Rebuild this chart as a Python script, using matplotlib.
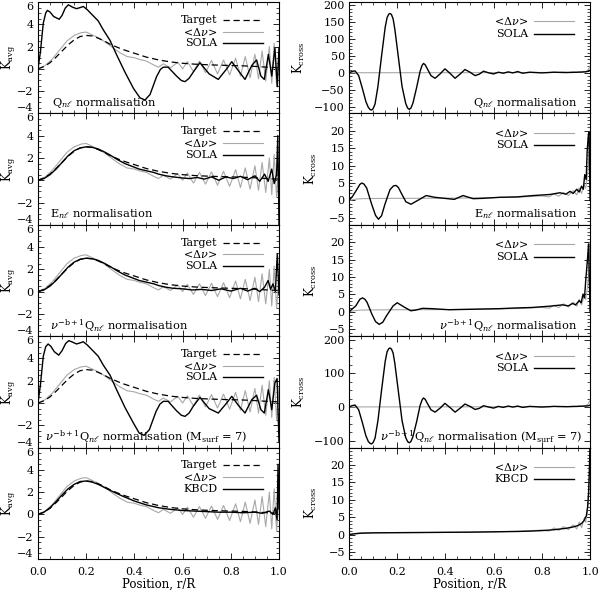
import matplotlib
matplotlib.use("Agg")
import matplotlib.pyplot as plt
from matplotlib.ticker import AutoMinorLocator, FixedLocator

# ---- data ---------------------------------------------------------------
# target kernel (dashed), identical in every left panel
target_r = [0, 0.025, 0.05, 0.075, 0.1, 0.125, 0.15, 0.175, 0.2, 0.225, 0.25, 0.275,
            0.3, 0.35, 0.4, 0.45, 0.5, 0.55, 0.6, 0.65, 0.7, 0.75, 0.8, 0.85, 0.9, 0.95, 1.0]
target_k = [0, 0.2, 0.55, 1.05, 1.6, 2.15, 2.6, 2.9, 3.0, 2.95, 2.75, 2.5,
            2.2, 1.75, 1.4, 1.05, 0.8, 0.62, 0.5, 0.42, 0.37, 0.33, 0.3, 0.27, 0.22, 0.15, 0.1]

# <dnu> averaging kernel (grey), same in every left panel
dnu_avg_r = [0, 0.03, 0.06, 0.09, 0.12, 0.15, 0.18, 0.2, 0.22, 0.25, 0.28, 0.31, 0.34, 0.37,
             0.4, 0.42, 0.45, 0.48, 0.5, 0.52, 0.55, 0.58, 0.6, 0.62, 0.645, 0.67, 0.695,
             0.72, 0.745, 0.77, 0.795, 0.82, 0.84, 0.86, 0.88, 0.9, 0.915, 0.93, 0.945,
             0.96, 0.97, 0.98, 0.99, 1.0]
dnu_avg_k = [0, 0.3, 0.9, 1.7, 2.5, 3.0, 3.25, 3.3, 3.1, 2.8, 2.4, 1.9, 1.45, 1.1,
             1.0, 0.85, 0.7, 0.35, 0.15, 0.45, 0.1, 0.6, 0.0, 0.65, -0.25, 0.7, -0.35,
             0.75, -0.45, 0.8, -0.55, 0.95, -0.65, 1.1, -0.8, 1.3, -0.9, 1.6, -1.1,
             2.0, -1.3, 2.3, -1.5, 1.4]

# SOLA averaging kernels
sola_q_r = [0, 0.01, 0.022, 0.032, 0.039, 0.05, 0.065, 0.088, 0.1, 0.113, 0.126, 0.142,
            0.16, 0.175, 0.188, 0.205, 0.223, 0.25, 0.271, 0.299, 0.326, 0.361, 0.396,
            0.423, 0.444, 0.465, 0.492, 0.508, 0.52, 0.54, 0.575, 0.595, 0.61, 0.627,
            0.644, 0.672, 0.71, 0.748, 0.783, 0.804, 0.831, 0.859, 0.887, 0.907, 0.925,
            0.939, 0.956, 0.97, 0.983, 0.993, 1.0]
sola_q_k = [0, 1.5, 4.1, 5.0, 5.25, 5.1, 4.7, 4.45, 4.8, 5.45, 5.75, 5.55,
            5.4, 5.5, 5.6, 5.3, 4.9, 4.3, 3.5, 2.55, 1.27, -0.3, -1.75,
            -2.6, -2.8, -2.3, -0.7, -0.05, 0.15, 0.15, -0.65, -1.05, -1.15, -0.85,
            -0.3, 0.55, -0.45, -0.95, 0.0, 0.64, -0.15, -0.95, 0.3, 0.8, -0.65,
            -0.95, 1.3, -0.65, 1.9, -1.6, 1.9]

sola_e_r = [0, 0.025, 0.05, 0.075, 0.1, 0.125, 0.15, 0.175, 0.2, 0.225, 0.25, 0.275, 0.3,
            0.33, 0.36, 0.39, 0.42, 0.45, 0.48, 0.5, 0.53, 0.56, 0.6, 0.63, 0.66, 0.69,
            0.72, 0.75, 0.78, 0.81, 0.84, 0.87, 0.9, 0.92, 0.94, 0.955, 0.97, 0.98,
            0.99, 0.995, 1.0]
sola_e_k = [0, 0.15, 0.5, 1.0, 1.6, 2.2, 2.65, 2.9, 3.0, 2.95, 2.8, 2.55, 2.25,
            1.85, 1.5, 1.25, 1.0, 0.85, 0.7, 0.55, 0.4, 0.3, 0.2, 0.15, 0.25, 0.1,
            0.3, 0.0, 0.3, 0.15, 0.35, 0.05, 0.4, -0.1, 0.55, -0.1, 1.0, -0.3,
            0.5, 4.0, -4.0]

sola_nu_r = [0, 0.025, 0.05, 0.075, 0.1, 0.125, 0.15, 0.175, 0.2, 0.225, 0.25, 0.275, 0.3,
             0.33, 0.36, 0.39, 0.42, 0.45, 0.48, 0.5, 0.53, 0.56, 0.6, 0.64, 0.68, 0.72,
             0.76, 0.8, 0.84, 0.87, 0.9, 0.92, 0.94, 0.955, 0.965, 0.975, 0.985,
             0.993, 1.0]
sola_nu_k = [0, 0.15, 0.5, 1.0, 1.6, 2.2, 2.65, 2.9, 3.0, 2.95, 2.8, 2.55, 2.25,
             1.85, 1.5, 1.25, 1.0, 0.85, 0.7, 0.55, 0.4, 0.3, 0.25, 0.15, 0.2, 0.1,
             0.25, 0.05, 0.3, 0.05, 0.3, 0.0, 0.4, 1.0, 0.2, 0.7, 0.0,
             3.4, -0.3]

sola_q7_r = [0, 0.01, 0.022, 0.032, 0.042, 0.053, 0.068, 0.086, 0.1, 0.115, 0.128, 0.145,
             0.16, 0.175, 0.188, 0.205, 0.223, 0.25, 0.271, 0.299, 0.326, 0.361, 0.396,
             0.42, 0.44, 0.462, 0.49, 0.506, 0.52, 0.54, 0.575, 0.595, 0.61, 0.627,
             0.644, 0.672, 0.71, 0.748, 0.783, 0.804, 0.831, 0.859, 0.887, 0.907, 0.925,
             0.939, 0.956, 0.97, 0.983, 0.992, 1.0]
sola_q7_k = [0, 1.6, 4.2, 5.05, 5.3, 5.1, 4.6, 4.3, 4.7, 5.35, 5.6, 5.45,
             5.3, 5.4, 5.5, 5.2, 4.8, 4.2, 3.4, 2.5, 1.2, -0.4, -1.8,
             -2.7, -2.9, -2.4, -0.75, -0.1, 0.15, 0.15, -0.7, -1.1, -1.2, -0.9,
             -0.3, 0.5, -0.5, -0.9, 0.0, 0.6, -0.2, -0.9, 0.3, 0.7, -0.6,
             -0.9, 1.2, -0.6, 1.8, 2.2, -3.5]

kbcd_avg_r = [0, 0.025, 0.05, 0.075, 0.1, 0.125, 0.15, 0.175, 0.2, 0.225, 0.25, 0.3,
              0.35, 0.4, 0.45, 0.5, 0.55, 0.6, 0.65, 0.7, 0.75, 0.8, 0.85, 0.9, 0.93,
              0.96, 0.975, 0.985, 0.992, 0.996, 1.0]
kbcd_avg_k = [0, 0.2, 0.6, 1.15, 1.75, 2.3, 2.7, 2.95, 3.0, 2.9, 2.7, 2.15,
              1.65, 1.2, 0.85, 0.6, 0.45, 0.35, 0.3, 0.25, 0.2, 0.2, 0.15, 0.2, 0.1,
              0.3, 0.0, 0.6, -0.5, 4.5, 0.5]

# cross-term kernels
dnu_cross_r = [0, 0.02, 0.05, 0.1, 0.2, 0.3, 0.4, 0.5, 0.6, 0.7, 0.75, 0.8, 0.83, 0.85,
               0.87, 0.89, 0.91, 0.93, 0.945, 0.955, 0.965, 0.975, 0.982, 0.988, 0.993,
               0.997, 1.0]
dnu_cross_k = [0, 0.3, 0.5, 0.55, 0.6, 0.6, 0.65, 0.7, 0.8, 0.95, 1.1, 1.3, 1.0, 1.9,
               1.2, 2.3, 1.4, 2.8, 1.6, 3.6, 2.0, 4.6, 3.5, 6.5, 10.0,
               16.0, 20.0]

sola_q_cross_r = [0, 0.012, 0.025, 0.04, 0.055, 0.07, 0.08, 0.088, 0.094, 0.1, 0.108,
                  0.12, 0.135, 0.15, 0.158, 0.165, 0.17, 0.176, 0.183, 0.19, 0.205,
                  0.22, 0.235, 0.243, 0.25, 0.257, 0.265, 0.28, 0.295, 0.303, 0.309,
                  0.316, 0.325, 0.34, 0.357, 0.378, 0.398, 0.42, 0.44, 0.46, 0.481,
                  0.502, 0.523, 0.54, 0.558, 0.58, 0.6, 0.62, 0.64, 0.66, 0.68,
                  0.7, 0.72, 0.75, 0.8, 0.85, 0.9, 0.95, 0.98, 0.995, 1.0]
sola_q_cross_k = [0, 4, 6, -8, -45, -85, -102, -109, -110, -106, -92,
                  -40, 50, 135, 164, 174, 176, 173, 160, 130, 45,
                  -40, -90, -104, -108, -104, -90, -45, 5, 22, 28,
                  24, 12, -8, -16, -3, 12, -2, -16, -4, 10,
                  2, -8, -4, 5, 0, -3, 2, -1, 3, 0,
                  4, -1, 2, 0, 2, 1, 2, 3, 5, 8]

sola_q7_cross_r = sola_q_cross_r
sola_q7_cross_k = [0, 4, 6, -8, -45, -85, -102, -108, -109, -105, -92,
                   -40, 50, 135, 164, 173, 175, 172, 160, 130, 45,
                   -40, -90, -102, -106, -102, -88, -45, 5, 21, 27,
                   23, 11, -8, -15, -3, 11, -2, -15, -4, 9,
                   2, -7, -4, 4, 0, -3, 2, -1, 3, 0,
                   3, -1, 2, 0, 2, 1, 2, 3, 4, 6]

sola_e_cross_r = [0, 0.015, 0.032, 0.045, 0.053, 0.062, 0.073, 0.094, 0.11, 0.122, 0.135,
                  0.149, 0.17, 0.185, 0.195, 0.205, 0.216, 0.236, 0.257, 0.285, 0.32,
                  0.355, 0.396, 0.437, 0.473, 0.515, 0.556, 0.625, 0.695, 0.764, 0.833,
                  0.875, 0.9, 0.917, 0.93, 0.945, 0.955, 0.965, 0.972, 0.978, 0.984,
                  0.988, 0.993, 0.996, 1.0]
sola_e_cross_k = [0, 1.2, 3.1, 4.6, 5.0, 4.7, 3.6, -1.1, -4.3, -5.4, -4.4,
                  -1.1, 3.1, 4.2, 4.3, 3.7, 2.2, -0.4, -1.1, 0.0, 1.4,
                  0.9, 0.6, 0.3, 1.4, 0.5, 0.6, 0.9, 1.0, 1.4, 1.7,
                  2.2, 1.8, 2.6, 2.0, 3.2, 2.4, 4.1, 3.2, 7.4, 6.0,
                  14.0, 18.7, 19.6, 0.0]

sola_nu_cross_r = [0, 0.028, 0.045, 0.056, 0.066, 0.075, 0.095, 0.11, 0.125, 0.14, 0.155,
                   0.183, 0.2, 0.228, 0.256, 0.277, 0.305, 0.346, 0.415, 0.484, 0.553,
                   0.622, 0.691, 0.76, 0.83, 0.886, 0.91, 0.927, 0.94, 0.955, 0.963,
                   0.971, 0.977, 0.982, 0.99, 0.994, 1.0]
sola_nu_cross_k = [0, 1.7, 3.6, 4.0, 3.6, 2.7, -0.7, -2.8, -3.6, -3.0, -1.2,
                   1.7, 2.6, 1.4, 0.3, 0.5, 1.0, 0.9, 0.6, 0.7, 0.8,
                   0.9, 1.1, 1.25, 1.6, 2.0, 1.7, 2.4, 2.0, 3.2, 2.6,
                   5.1, 4.0, 8.9, 15.7, 19.5, 0.0]

kbcd_cross_r = [0, 0.02, 0.05, 0.1, 0.2, 0.3, 0.4, 0.5, 0.6, 0.7, 0.75, 0.8, 0.85, 0.9,
                0.93, 0.95, 0.965, 0.975, 0.985, 0.99, 0.994, 0.997, 1.0]
kbcd_cross_k = [0, 0.2, 0.4, 0.5, 0.55, 0.6, 0.65, 0.7, 0.8, 0.9, 1.0, 1.15, 1.4, 1.8,
                2.2, 2.6, 3.2, 4.0, 5.5, 8.0, 12.0, 18.0, 26.0]

# ---- figure -----------------------------------------------------------------
plt.rcParams.update({
    "font.family": "DejaVu Serif", "font.size": 8,
    "mathtext.fontset": "dejavuserif",
    "axes.linewidth": 0.8,
    "xtick.direction": "in", "ytick.direction": "in",
    "xtick.top": True, "ytick.right": True,
    "xtick.major.size": 4.5, "ytick.major.size": 4.5,
    "xtick.minor.size": 2.2, "ytick.minor.size": 2.2,
    "xtick.major.width": 0.6, "ytick.major.width": 0.6,
    "xtick.minor.width": 0.5, "ytick.minor.width": 0.5,
})
GREY = "#a8a8a8"

fig = plt.figure(figsize=(6.0, 5.9), dpi=100)
H = 0.1888
tops = [0.9966 - i * H for i in range(5)]
x_left, x_right, W = 0.0633, 0.5817, 0.4017

nu_lab = r"$\nu^{-\mathrm{b}+1}$Q$_{n\ell}$ normalisation"
notes = [r"Q$_{n\ell}$ normalisation", r"E$_{n\ell}$ normalisation", nu_lab,
         nu_lab + r" (M$_{\rm surf}$ = 7)", None]
note_left_x = [0.058, 0.05, 0.05, 0.03]
note_right_x = [0.946, 0.946, 0.946, 0.968]
avg_black = [(sola_q_r, sola_q_k), (sola_e_r, sola_e_k), (sola_nu_r, sola_nu_k),
             (sola_q7_r, sola_q7_k), (kbcd_avg_r, kbcd_avg_k)]
cross_black = [(sola_q_cross_r, sola_q_cross_k), (sola_e_cross_r, sola_e_cross_k),
               (sola_nu_cross_r, sola_nu_cross_k), (sola_q7_cross_r, sola_q7_cross_k),
               (kbcd_cross_r, kbcd_cross_k)]
method = ["SOLA", "SOLA", "SOLA", "SOLA", "KBCD"]
big = [True, False, False, True, False]


def legend_row(ax, y, text, **line_kw):
    ax.text(0.743, y, text, transform=ax.transAxes, ha="right", va="center", fontsize=8)
    ax.plot([0.768, 0.935], [y, y], transform=ax.transAxes, **line_kw)


def style_x(ax, bottom):
    ax.set_xlim(0, 1)
    ax.xaxis.set_major_locator(FixedLocator([0, 0.2, 0.4, 0.6, 0.8, 1.0]))
    ax.xaxis.set_minor_locator(AutoMinorLocator(4))
    if bottom:
        ax.set_xticklabels(["0.0", "0.2", "0.4", "0.6", "0.8", "1.0"])
        ax.set_xlabel("Position, r/R", fontsize=8.5, labelpad=0)
    else:
        ax.set_xticklabels([])
    ax.tick_params(labelsize=8, pad=3)
    ax.tick_params(axis="x", pad=6)


for i in range(5):
    bottom = i == 4
    # left column: averaging kernels
    ax = fig.add_axes([x_left, tops[i] - H, W, H])
    ax.plot(dnu_avg_r, dnu_avg_k, color=GREY, lw=0.8, zorder=2)
    ax.plot(target_r, target_k, color="black", lw=0.9, ls=(0, (5, 3)), zorder=3)
    ax.plot(*avg_black[i], color="black", lw=1.0, zorder=4)
    ax.set_ylim(-4, 6)
    ax.yaxis.set_major_locator(FixedLocator([-4, -2, 0, 2, 4, 6]))
    ax.yaxis.set_minor_locator(AutoMinorLocator(4))
    ax.set_ylabel(r"K$_{\rm avg}$", fontsize=8.5)
    ax.yaxis.set_label_coords(-0.083, 0.5)
    style_x(ax, bottom)
    yt = ax.yaxis.get_major_ticks()
    yt[0].label1.set_verticalalignment("bottom")
    yt[-1].label1.set_verticalalignment("top")
    legend_row(ax, 0.84, "Target", color="black", lw=0.9, ls=(0, (5, 3)))
    legend_row(ax, 0.735, r"<$\Delta\nu$>", color=GREY, lw=0.8)
    legend_row(ax, 0.63, method[i], color="black", lw=1.0)
    if notes[i]:
        ax.text(note_left_x[i], 0.095, notes[i], transform=ax.transAxes, ha="left",
                va="center", fontsize=8.2)

    # right column: cross-term kernels
    ax = fig.add_axes([x_right, tops[i] - H, W, H])
    ax.plot(dnu_cross_r, dnu_cross_k, color=GREY, lw=0.8, zorder=2)
    ax.plot(*cross_black[i], color="black", lw=1.0, zorder=4)
    if big[i]:
        ax.set_ylim(-120, 210)
        ticks = [-100, -50, 0, 50, 100, 150, 200] if i == 0 else [-100, 0, 100, 200]
        ax.yaxis.set_major_locator(FixedLocator(ticks))
        ax.yaxis.set_minor_locator(AutoMinorLocator(5 if i == 0 else 4))
        lab_x = -0.175
    else:
        ax.set_ylim(-7, 25)
        ax.yaxis.set_major_locator(FixedLocator([-5, 0, 5, 10, 15, 20]))
        ax.yaxis.set_minor_locator(AutoMinorLocator(5))
        lab_x = -0.125
    ax.set_ylabel(r"K$_{\rm cross}$", fontsize=8.5)
    ax.yaxis.set_label_coords(lab_x, 0.5)
    style_x(ax, bottom)
    legend_row(ax, 0.825, r"<$\Delta\nu$>", color=GREY, lw=0.8)
    legend_row(ax, 0.715, method[i], color="black", lw=1.0)
    if notes[i]:
        ax.text(note_right_x[i], 0.095, notes[i], transform=ax.transAxes, ha="right",
                va="center", fontsize=8.2)

fig.savefig("out.png", dpi=100)
